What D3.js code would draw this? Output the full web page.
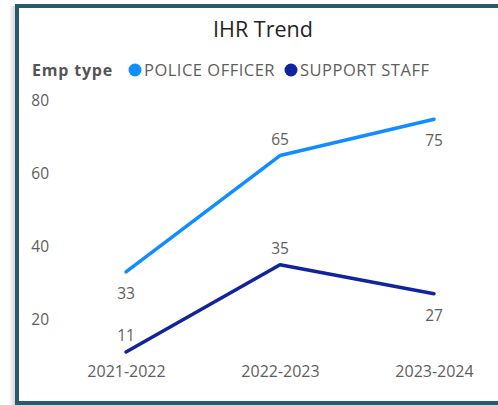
<!DOCTYPE html>
<html>
<head>
<meta charset="utf-8">
<script src="https://cdn.jsdelivr.net/npm/d3@7/dist/d3.min.js"></script>
<style>
  html, body { margin: 0; padding: 0; background: #ffffff; overflow: hidden; }
  svg { display: block; }
  text { font-family: "Open Sans", "Noto Sans", sans-serif; }
</style>
</head>
<body>
<svg id="chart" width="498" height="405"></svg>
<script>
// Fiscal years on the x axis
const periods = ["2021-2022", "2022-2023", "2023-2024"];
// IHR counts per employee type
const policeOfficer = [33, 65, 75];
const supportStaff = [11, 35, 27];
const seriesNames = ["POLICE OFFICER", "SUPPORT STAFF"];
const yTicks = [20, 40, 60, 80];

const colors = { "POLICE OFFICER": "#118dff", "SUPPORT STAFF": "#12239e" };
const series = [
  { name: seriesNames[0], values: policeOfficer, labelPos: ["below", "above", "below"] },
  { name: seriesNames[1], values: supportStaff, labelPos: ["above", "above", "below"] }
];

const svg = d3.select("#chart");

// card frame with a soft shadow on the left; the card continues past the right edge
const defs = svg.append("defs");
const grad = defs.append("linearGradient").attr("id", "shade").attr("x1", "0").attr("x2", "1");
grad.append("stop").attr("offset", "0").attr("stop-color", "#ffffff");
grad.append("stop").attr("offset", "1").attr("stop-color", "#d6d6d6");
svg.append("rect").attr("x", 9).attr("y", 6).attr("width", 6).attr("height", 399).attr("fill", "url(#shade)");
svg.append("path")
  .attr("d", "M498,6 H17 V403 H498")
  .attr("fill", "none").attr("stroke", "#2a5a6b").attr("stroke-width", 4);

// title
svg.append("text")
  .attr("x", 263).attr("y", 37)
  .attr("text-anchor", "middle")
  .attr("font-size", 21.5)
  .attr("fill", "#252423")
  .text("IHR Trend");

// legend
const legend = svg.append("g").attr("transform", "translate(32,76)");
legend.append("text")
  .attr("x", 0).attr("y", 0)
  .attr("font-size", 16).attr("font-weight", "bold")
  .attr("letter-spacing", 0.8)
  .attr("fill", "#555555")
  .text("Emp type");
const legendX = [103, 259];
seriesNames.forEach((n, i) => {
  legend.append("circle").attr("cx", legendX[i]).attr("cy", -6).attr("r", 6.5).attr("fill", colors[n]);
  legend.append("text")
    .attr("x", legendX[i] + 9).attr("y", 0)
    .attr("font-size", 16.5).attr("letter-spacing", 0.5)
    .attr("fill", "#605e5c")
    .text(n);
});

// scales
const x = d3.scalePoint().domain(periods).range([126, 434]);
const y = d3.scaleLinear().domain([10, 80]).range([355.6, 101]);

// y axis
const yAxis = svg.append("g")
  .attr("transform", "translate(52,0)")
  .call(d3.axisLeft(y).tickValues(yTicks).tickSize(0).tickPadding(3));
yAxis.select(".domain").remove();
yAxis.selectAll("text")
  .attr("font-family", "'Open Sans', 'Noto Sans', sans-serif")
  .attr("font-size", 15.5).attr("fill", "#605e5c");

// x axis
const xAxis = svg.append("g")
  .attr("transform", "translate(0,356)")
  .call(d3.axisBottom(x).tickSize(0).tickPadding(10));
xAxis.select(".domain").remove();
xAxis.selectAll("text")
  .attr("font-family", "'Open Sans', 'Noto Sans', sans-serif")
  .attr("font-size", 16).attr("fill", "#605e5c");

// lines
const line = d3.line()
  .x((d, i) => x(periods[i]))
  .y(d => y(d));

series.forEach(s => {
  svg.append("path")
    .datum(s.values)
    .attr("d", line)
    .attr("fill", "none")
    .attr("stroke", colors[s.name])
    .attr("stroke-width", 3.5)
    .attr("stroke-linejoin", "round")
    .attr("stroke-linecap", "round");

  svg.append("g").selectAll("text")
    .data(s.values)
    .join("text")
    .attr("x", (d, i) => x(periods[i]))
    .attr("y", (d, i) => y(d) + (s.labelPos[i] === "above" ? -11 : 27))
    .attr("text-anchor", "middle")
    .attr("font-size", 15.5)
    .attr("fill", "#605e5c")
    .text(d => d);
});
</script>
</body>
</html>
